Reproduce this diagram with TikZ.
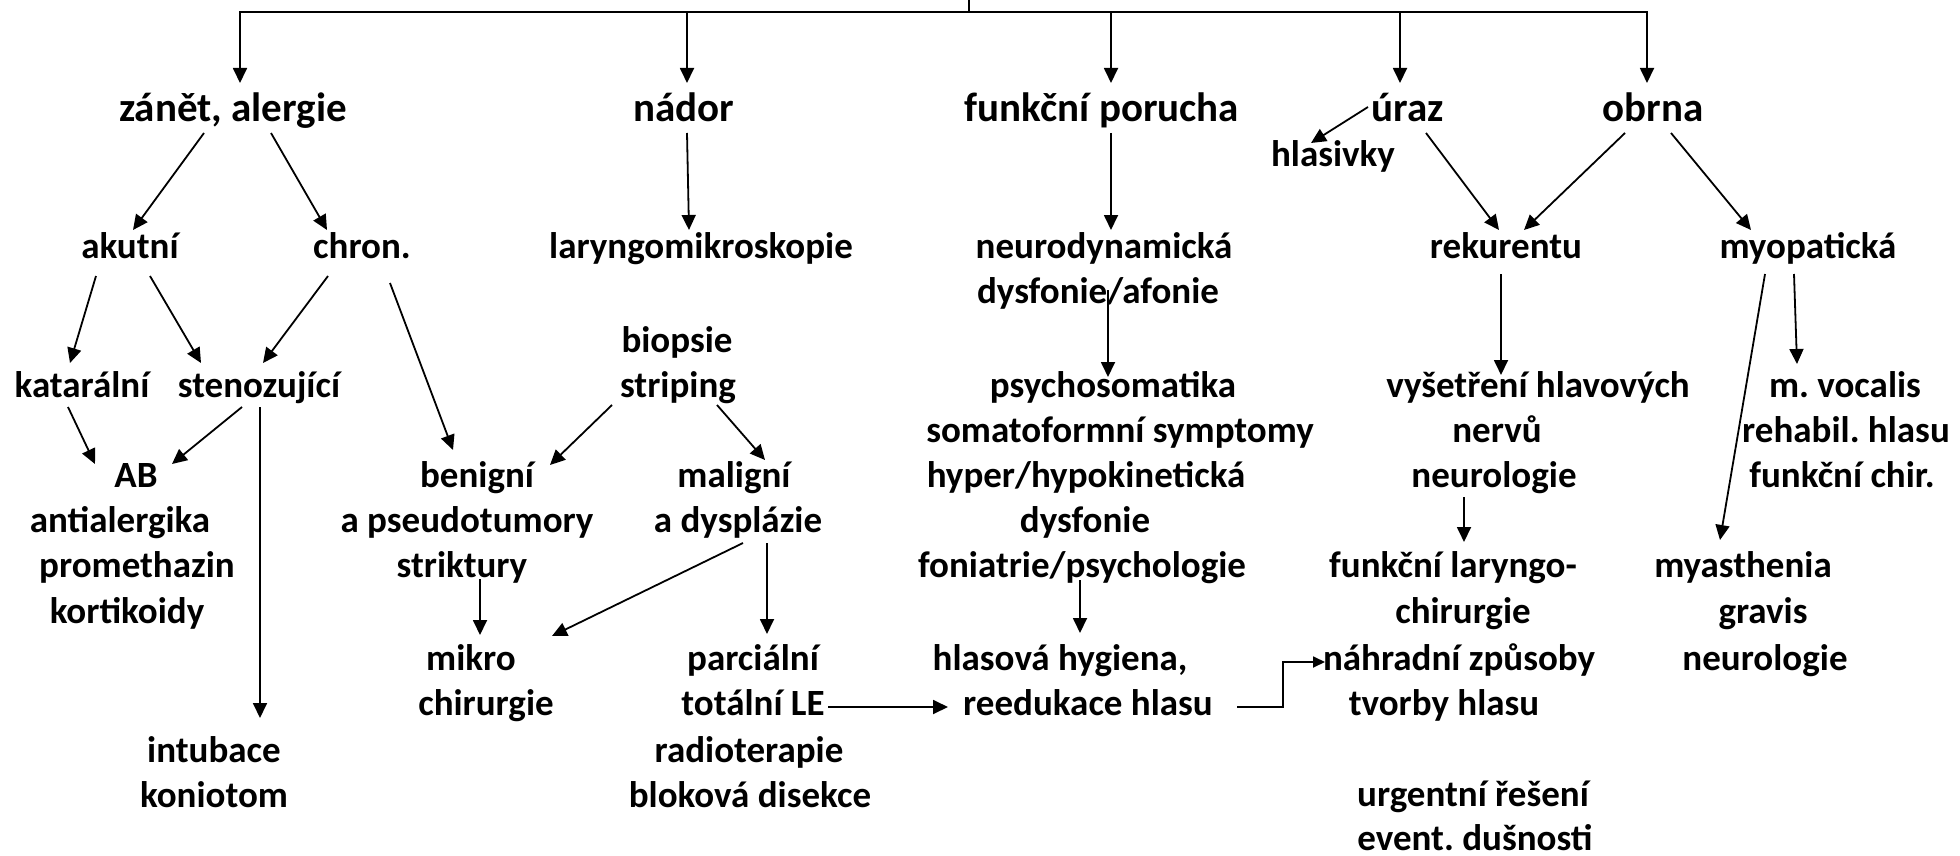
\documentclass[tikz,border=0pt]{standalone}
\usepackage{fontspec}
\setmainfont{Carlito}
\usetikzlibrary{arrows.meta}
\frenchspacing
\newcommand\txtN{\fontsize{37}{45}\selectfont\bfseries}
\newcommand\txtT{\fontsize{41}{50}\selectfont\bfseries}
\begin{document}
\begin{tikzpicture}[x=1pt,y=-1pt,
  lbl/.style={inner sep=0pt,anchor=base,font=\txtN},
  toplbl/.style={inner sep=0pt,anchor=base,font=\txtT},
  ln/.style={line width=1.8pt},
  arr/.style={line width=1.8pt,-{Triangle[length=15pt,width=14pt]}},
  arrsm/.style={line width=1.8pt,-{Triangle[length=12pt,width=11pt]}}]
\useasboundingbox (0,0) rectangle (1960,856);
% top level
\node[toplbl] (zanet) at (233,122) {zánět, alergie};
\node[toplbl] (nador) at (684,122) {nádor};
\node[toplbl] (funkcni) at (1102,122) {funkční porucha};
\node[toplbl] (uraz) at (1408,122) {úraz};
\node[toplbl] (obrna) at (1653,122) {obrna};
\node[lbl] (hlasivky) at (1333,167) {hlasivky};
% level 2
\node[lbl] (akutni) at (130,258) {akutní};
\node[lbl] (chron) at (362,258) {chron.};
\node[lbl] (laryngo) at (701,258) {laryngomikroskopie};
\node[lbl] (neurodyn) at (1104,258) {neurodynamická};
\node[lbl] (dysaf) at (1098,303) {dysfonie/afonie};
\node[lbl] (rekurentu) at (1506,258) {rekurentu};
\node[lbl] (myop) at (1808,258) {myopatická};
% level 3
\node[lbl] (biopsie) at (677,352) {biopsie};
\node[lbl] (katar) at (82,397) {katarální};
\node[lbl] (stenoz) at (259,397) {stenozující};
\node[lbl] (striping) at (678,397) {striping};
\node[lbl] (psycho) at (1113,397) {psychosomatika};
\node[lbl] (vys) at (1538,397) {vyšetření hlavových};
\node[lbl] (mvoc) at (1845,397) {m. vocalis};
\node[lbl] (somato) at (1120,442) {somatoformní symptomy};
\node[lbl] (nervu) at (1497,442) {nervů};
\node[lbl] (rehabil) at (1846,442) {rehabil. hlasu};
\node[lbl] (AB) at (136,487) {AB};
\node[lbl] (benigni) at (477,487) {benigní};
\node[lbl] (maligni) at (734,487) {maligní};
\node[lbl] (hyper) at (1086,487) {hyper/hypokinetická};
\node[lbl] (neurolA) at (1494,487) {neurologie};
\node[lbl] (funkchir) at (1842,487) {funkční chir.};
\node[lbl] (antial) at (120,532) {antialergika};
\node[lbl] (pseudo) at (467,532) {a pseudotumory};
\node[lbl] (dyspl) at (738,532) {a dysplázie};
\node[lbl] (dysfonie) at (1085,532) {dysfonie};
\node[lbl] (prometh) at (137,577) {promethazin};
\node[lbl] (strikt) at (462,577) {striktury};
\node[lbl] (foni) at (1082,577) {foniatrie/psychologie};
\node[lbl] (funklar) at (1453,577) {funkční laryngo-};
\node[lbl] (myas) at (1743,577) {myasthenia};
\node[lbl] (kortik) at (127,623) {kortikoidy};
\node[lbl] (chirB) at (1463,623) {chirurgie};
\node[lbl] (gravis) at (1763,623) {gravis};
\node[lbl] (mikro) at (471,670) {mikro};
\node[lbl] (parc) at (753,670) {parciální};
\node[lbl] (hlasova) at (1060,670) {hlasová hygiena,};
\node[lbl] (nahradni) at (1459,670) {náhradní způsoby};
\node[lbl] (neurolB) at (1765,670) {neurologie};
\node[lbl] (chirA) at (486,715) {chirurgie};
\node[lbl] (totalni) at (753,715) {totální LE};
\node[lbl] (reed) at (1088,715) {reedukace hlasu};
\node[lbl] (tvorby) at (1444,715) {tvorby hlasu};
\node[lbl] (intub) at (214,762) {intubace};
\node[lbl] (radio) at (749,762) {radioterapie};
\node[lbl] (konio) at (214,807) {koniotom};
\node[lbl] (blok) at (750,807) {bloková disekce};
\node[lbl] (urg) at (1473,806) {urgentní řešení};
\node[lbl] (event) at (1475,850) {event. dušnosti};
% root bar
\coordinate (root) at (969,0);
\coordinate (bar) at (969,12);
\draw[ln] (root) -- (bar);
\draw[arr] (bar) -| ([shift={(7,-39)}]zanet.base);
\draw[arr] (bar) -| ([shift={(3,-39)}]nador.base);
\draw[arr] (bar) -| ([shift={(9,-39)}]funkcni.base);
\draw[arr] (bar) -| ([shift={(-8,-39)}]uraz.base);
\draw[arr] (bar) -| ([shift={(-6,-39)}]obrna.base);
% level 1 -> 2
\draw[arr] ([shift={(-40,-15)}]uraz.base) -- ([shift={(-22,-24)}]hlasivky.base);
\draw[arr] ([shift={(-29,11)}]zanet.base) -- ([shift={(3,-28)}]akutni.base);
\draw[arr] ([shift={(38,11)}]zanet.base) -- ([shift={(-35,-28)}]chron.base);
\draw[arr] ([shift={(3,11)}]nador.base) -- ([shift={(-12,-28)}]laryngo.base);
\draw[arr] ([shift={(9,11)}]funkcni.base) -- ([shift={(7,-28)}]neurodyn.base);
\draw[arr] ([shift={(18,11)}]uraz.base) -- ([shift={(-7,-28)}]rekurentu.base);
\draw[arr] ([shift={(-28,11)}]obrna.base) -- ([shift={(18,-28)}]rekurentu.base);
\draw[arr] ([shift={(18,11)}]obrna.base) -- ([shift={(-57,-28)}]myop.base);
% level 2 -> 3
\draw[arr] ([shift={(-34,18)}]akutni.base) -- ([shift={(-12,-34)}]katar.base);
\draw[arr] ([shift={(20,18)}]akutni.base) -- ([shift={(-58,-34)}]stenoz.base);
\draw[arr] ([shift={(-34,18)}]chron.base) -- ([shift={(4,-34)}]stenoz.base);
\draw[arr] ([shift={(28,25)}]chron.base) -- ([shift={(-24,-37)}]benigni.base);
\draw[arr] ([shift={(10,-13)}]dysaf.base) -- ([shift={(-5,-20)}]psycho.base);
\draw[arr] ([shift={(-5,16)}]rekurentu.base) -- ([shift={(-37,-22)}]vys.base);
\draw[arr] ([shift={(-14,16)}]myop.base) -- ([shift={(-48,-33)}]mvoc.base);
\draw[arr] ([shift={(-43,16)}]myop.base) -- ([shift={(-23,-37)}]myas.base);
% level 3 ->
\draw[arr] ([shift={(-14,10)}]katar.base) -- ([shift={(-41,-23)}]AB.base);
\draw[arr] ([shift={(-17,10)}]stenoz.base) -- ([shift={(36,-23)}]AB.base);
\draw[arr] ([shift={(1,10)}]stenoz.base) -- ([shift={(46,-44)}]intub.base);
\draw[arr] ([shift={(-66,8)}]striping.base) -- ([shift={(73,-22)}]benigni.base);
\draw[arr] ([shift={(39,8)}]striping.base) -- ([shift={(31,-27)}]maligni.base);
\draw[arr] ([shift={(18,2)}]strikt.base) -- ([shift={(9,-35)}]mikro.base);
\draw[arr] ([shift={(5,11)}]dyspl.base) -- ([shift={(81,-34)}]mikro.base);
\draw[arr] ([shift={(29,11)}]dyspl.base) -- ([shift={(14,-36)}]parc.base);
\draw[arr] ([shift={(75,-8)}]totalni.base) -- ([shift={(-140,-8)}]reed.base);
\draw[arr] ([shift={(-2,3)}]foni.base) -- ([shift={(20,-37)}]hlasova.base);
\draw[arrsm] ([shift={(149,-8)}]reed.base) -- ++(46,0) |- ([shift={(-134,-8)}]nahradni.base);
\draw[arr] ([shift={(-30,10)}]neurolA.base) -- ([shift={(11,-35)}]funklar.base);
\end{tikzpicture}
\end{document}
